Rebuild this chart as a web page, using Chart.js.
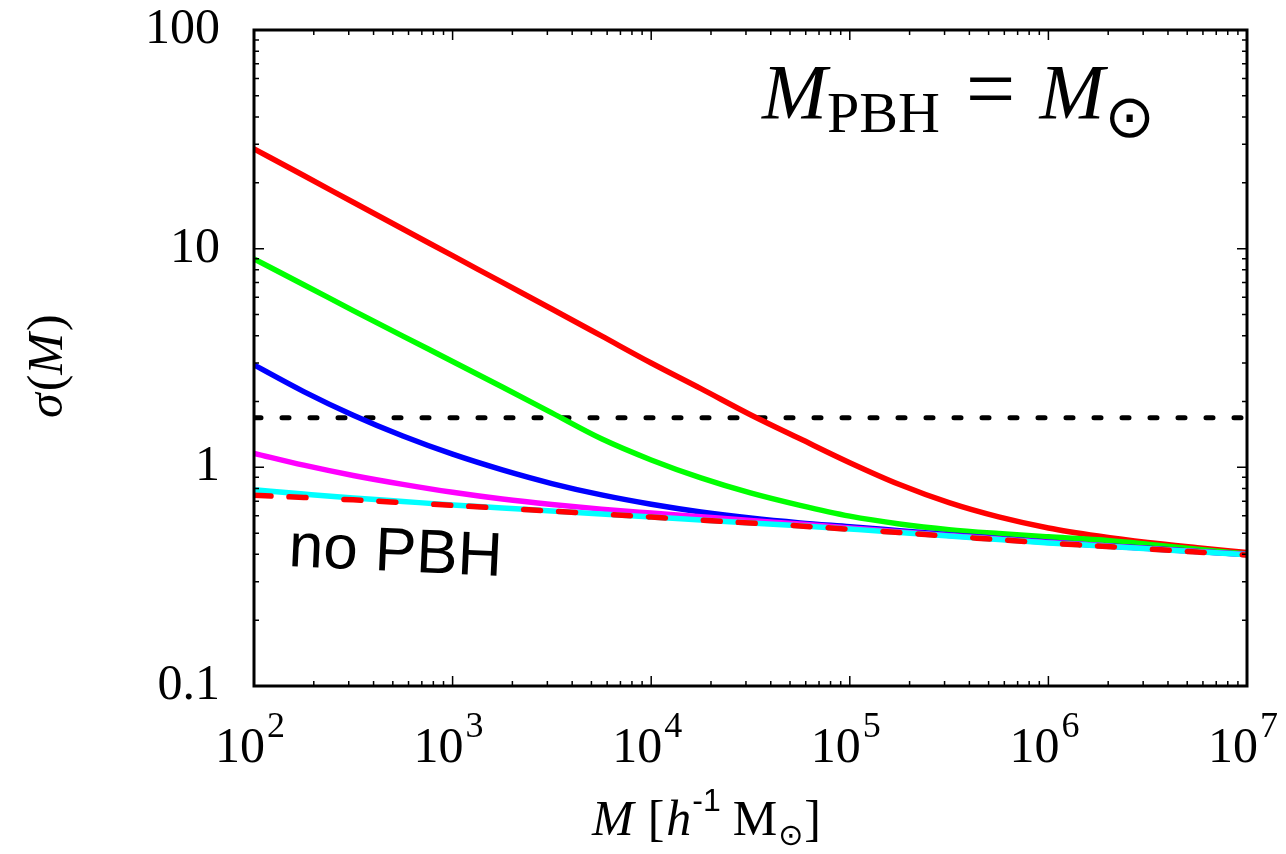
<!DOCTYPE html>
<html lang="en">
<head>
<meta charset="UTF-8">
<title>σ(M) — M_PBH = M_sun</title>
<script src="https://cdn.jsdelivr.net/npm/chart.js"></script>
<style>
  body { margin: 0; background: #fff; }
  #wrap { width: 1286px; height: 854px; }
</style>
</head>
<body>
<div id="wrap"><canvas id="sigmaChart"></canvas></div>
<script>
// mass grid in h^-1 Msun (quarter-decade steps)
const mass = [1e2, 1.78e2, 3.16e2, 5.62e2, 1e3, 1.78e3, 3.16e3, 5.62e3, 1e4, 1.78e4, 3.16e4,
              5.62e4, 1e5, 1.78e5, 3.16e5, 5.62e5, 1e6, 1.78e6, 3.16e6, 5.62e6, 1e7];

// sigma(M) for the different PBH fractions
const sigmaRed     = [28.6, 21.6, 16.3, 12.3, 9.29, 7.01, 5.30, 3.99, 3.00, 2.29, 1.74,
                      1.35, 1.05, 0.834, 0.689, 0.593, 0.528, 0.485, 0.453, 0.429, 0.408];
const sigmaGreen   = [8.97, 6.84, 5.21, 3.98, 3.05, 2.33, 1.774, 1.35, 1.081, 0.895, 0.764,
                      0.670, 0.598, 0.551, 0.519, 0.498, 0.481, 0.466, 0.445, 0.422, 0.401];
const sigmaBlue    = [2.94, 2.22, 1.73, 1.39, 1.148, 0.973, 0.843, 0.748, 0.678, 0.625, 0.586,
                      0.557, 0.535, 0.513, 0.492, 0.473, 0.455, 0.440, 0.426, 0.412, 0.399];
const sigmaMagenta = [1.159, 1.023, 0.918, 0.836, 0.769, 0.716, 0.676, 0.644, 0.618, 0.594, 0.571,
                      0.550, 0.528, 0.507, 0.488, 0.470, 0.453, 0.439, 0.425, 0.412, 0.399];
const sigmaCyan    = [0.789, 0.755, 0.724, 0.698, 0.673, 0.652, 0.631, 0.612, 0.593, 0.574, 0.557,
                      0.540, 0.522, 0.504, 0.485, 0.468, 0.451, 0.438, 0.424, 0.411, 0.398];
const sigmaNoPBH   = [0.745, 0.728, 0.710, 0.690, 0.670, 0.650, 0.630, 0.611, 0.592, 0.573, 0.556,
                      0.539, 0.521, 0.503, 0.484, 0.467, 0.450, 0.437, 0.423, 0.410, 0.397];

// delta_c threshold
const thresholdMass  = [1e2, 1e7];
const thresholdSigma = [1.686, 1.686];

const xTickExponents = ['2', '3', '4', '5', '6', '7'];
const xTickValues    = [1e2, 1e3, 1e4, 1e5, 1e6, 1e7];
const yTickValues    = [0.1, 1, 10, 100];
const yTickLabels    = ['0.1', '1', '10', '100'];

const serif = '"Liberation Serif", "Times New Roman", serif';
const sans = '"Liberation Sans", Arial, sans-serif';

function pts(xs, ys) {
    return xs.map((m, i) => ({ x: m, y: ys[i] }));
}

function curve(data, color, order, extra) {
    return Object.assign({
        data: data,
        borderColor: color,
        borderWidth: 5.5,
        pointRadius: 0,
        fill: false,
        cubicInterpolationMode: 'monotone',
        order: order
    }, extra || {});
}

// draws a row of text pieces with different fonts / offsets
function drawRuns(ctx, x, y, runs) {
    runs.forEach(r => {
        ctx.font = r.font;
        x += r.gap || 0;
        ctx.fillText(r.text, x, y + (r.dy || 0));
        x += ctx.measureText(r.text).width;
    });
    return x;
}

function runsWidth(ctx, runs) {
    let w = 0;
    runs.forEach(r => {
        ctx.font = r.font;
        w += (r.gap || 0) + ctx.measureText(r.text).width;
    });
    return w;
}

const axesFrame = {
    id: 'axesFrame',
    afterDatasetsDraw(chart) {
        const { ctx, chartArea: a, scales: { x, y } } = chart;
        ctx.save();
        ctx.strokeStyle = '#000';
        ctx.lineWidth = 1.5;
        ctx.beginPath();
        // inward ticks on all four sides
        for (let e = 2; e < 7; e++) {
            for (let k = 1; k < 10; k++) {
                const px = x.getPixelForValue(k * Math.pow(10, e));
                const len = k === 1 ? 10 : 5;
                ctx.moveTo(px, a.bottom); ctx.lineTo(px, a.bottom - len);
                ctx.moveTo(px, a.top); ctx.lineTo(px, a.top + len);
            }
        }
        for (let e = -1; e < 2; e++) {
            for (let k = 1; k < 10; k++) {
                const py = y.getPixelForValue(k * Math.pow(10, e));
                const len = k === 1 ? 10 : 5;
                ctx.moveTo(a.left, py); ctx.lineTo(a.left + len, py);
                ctx.moveTo(a.right, py); ctx.lineTo(a.right - len, py);
            }
        }
        ctx.stroke();
        ctx.lineWidth = 3;
        ctx.strokeRect(a.left, a.top, a.width, a.height);
        ctx.restore();
    },
    afterDraw(chart) {
        const { ctx, scales: { x } } = chart;
        ctx.save();
        ctx.fillStyle = '#000';
        ctx.textBaseline = 'alphabetic';
        ctx.textAlign = 'left';

        // x tick labels 10^n
        xTickValues.forEach((v, i) => {
            const runs = [
                { text: '10', font: '50px ' + serif },
                { text: xTickExponents[i], font: '36px ' + serif, dy: -25, gap: 2 }
            ];
            const w = runsWidth(ctx, runs);
            drawRuns(ctx, x.getPixelForValue(v) - w / 2 - 4, 762, runs);
        });

        // x axis title
        drawRuns(ctx, 592, 835, [
            { text: 'M', font: 'italic 50px ' + serif },
            { text: '[', font: '50px ' + serif, gap: 14 },
            { text: 'h', font: 'italic 50px ' + serif, gap: 2 },
            { text: '-1', font: '32px ' + sans, dy: -24, gap: 1 },
            { text: 'M', font: '50px ' + serif, gap: 12 },
            { text: '\u2299', font: '30px "DejaVu Sans"', dy: 10, gap: 1 },
            { text: ']', font: '50px ' + serif, gap: 1 }
        ]);

        // y axis title, rotated
        ctx.save();
        ctx.translate(62, 418);
        ctx.rotate(-Math.PI / 2);
        drawRuns(ctx, 0, 0, [
            { text: 'σ', font: 'italic 50px ' + serif },
            { text: '(', font: '50px ' + serif, gap: 2 },
            { text: 'M', font: 'italic 50px ' + serif },
            { text: ')', font: '50px ' + serif, gap: 2 }
        ]);
        ctx.restore();

        // panel label
        drawRuns(ctx, 762, 118, [
            { text: 'M', font: 'italic 78px ' + serif },
            { text: 'PBH', font: '58px ' + serif, dy: 14 },
            { text: '=', font: '88px ' + serif, gap: 26 },
            { text: 'M', font: 'italic 78px ' + serif, gap: 24 },
            { text: '\u2299', font: '60px "DejaVu Sans"', dy: 19, gap: 0 }
        ]);

        // curve label
        ctx.save();
        ctx.translate(288, 566);
        ctx.rotate(2.7 * Math.PI / 180);
        ctx.font = '62px ' + sans;
        ctx.fillText('no PBH', 0, 0);
        ctx.restore();

        ctx.restore();
    }
};

new Chart(document.getElementById('sigmaChart'), {
    type: 'line',
    data: {
        datasets: [
            curve(pts(mass, sigmaRed), '#ff0000', 5),
            curve(pts(mass, sigmaGreen), '#00ff00', 4),
            curve(pts(mass, sigmaBlue), '#0000ff', 3),
            curve(pts(mass, sigmaMagenta), '#ff00ff', 2),
            curve(pts(mass, sigmaCyan), '#00ffff', 1),
            curve(pts(mass, sigmaNoPBH), '#ff0000', 0, { borderDash: [17, 18, 17, 38], borderCapStyle: 'round' }),
            curve(pts(thresholdMass, thresholdSigma), '#000000', 6, { borderDash: [7, 21], borderCapStyle: 'round', borderWidth: 5 })
        ]
    },
    options: {
        responsive: true,
        maintainAspectRatio: false,
        animation: false,
        events: [],
        layout: { padding: { top: 30, right: 39, left: 0, bottom: 0 } },
        plugins: {
            legend: { display: false },
            tooltip: { enabled: false }
        },
        scales: {
            x: {
                type: 'logarithmic',
                min: 1e2,
                max: 1e7,
                grid: { display: false, drawTicks: false },
                border: { display: false },
                ticks: { display: false },
                afterFit(scale) {
                    scale.height = 168;
                    scale.paddingLeft = 0;
                    scale.paddingRight = 0;
                }
            },
            y: {
                type: 'logarithmic',
                min: 0.1,
                max: 100,
                grid: { display: false, drawTicks: false },
                border: { display: false },
                afterBuildTicks(axis) {
                    axis.ticks = yTickValues.map(v => ({ value: v }));
                },
                ticks: {
                    autoSkip: false,
                    padding: 34,
                    color: '#000',
                    font: { family: 'Liberation Serif', size: 50 },
                    callback(value) {
                        const i = yTickValues.findIndex(t => Math.abs(t - value) / t < 1e-6);
                        return i >= 0 ? yTickLabels[i] : '';
                    }
                },
                afterFit(scale) {
                    scale.width = 254;
                    scale.paddingTop = 0;
                    scale.paddingBottom = 0;
                }
            }
        }
    },
    plugins: [axesFrame]
});
</script>
</body>
</html>
